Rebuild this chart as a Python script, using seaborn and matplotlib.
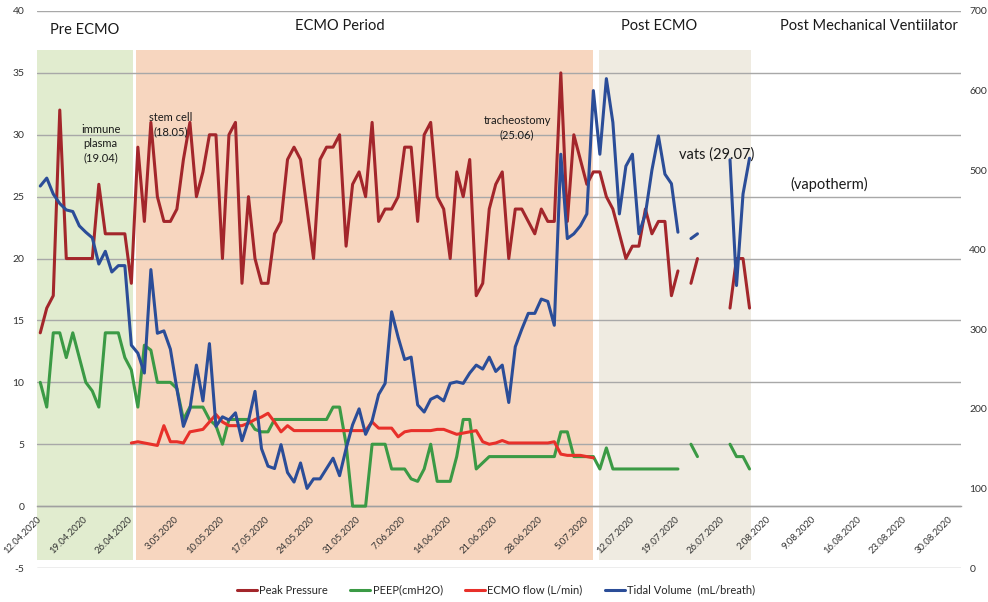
import numpy as np
import pandas as pd
import matplotlib
matplotlib.use("Agg")
import matplotlib.pyplot as plt
import matplotlib.dates as mdates
from matplotlib.lines import Line2D
import seaborn as sns

# ---------------- data ----------------
start_date = "2020-04-12"
nan = np.nan

peak_pressure = [14, 16, 17, 32, 20, 20, 20, 20, 20, 26,
                 22, 22, 22, 22, 18, 29, 23, 31, 25, 23,
                 23, 24, 28, 31, 25, 27, 30, 30, 20, 30,
                 31, 18, 25, 20, 18, 18, 22, 23, 28, 29,
                 28, 24, 20, 28, 29, 29, 30, 21, 26, 27,
                 25, 31, 23, 24, 24, 25, 29, 29, 23, 30,
                 31, 25, 24, 20, 27, 25, 28, 17, 18, 24,
                 26, 27, 20, 24, 24, 23, 22, 24, 23, 23,
                 35, 23, 30, 28, 26, 27, 27, 25, 24, 22,
                 20, 21, 21, 24, 22, 23, 23, 17, 19, nan,
                 18, 20, nan, nan, nan, nan, 16, 20, 20, 16]

peep = [10, 8, 14, 14, 12, 14, 12, 10, 9.3, 8,
        14, 14, 14, 12, 11, 8, 13, 12.6, 10, 10,
        10, 9.5, 7, 8, 8, 8, 7, 6.5, 5, 7,
        7, 7, 7, 6.2, 6, 6, 7, 7, 7, 7,
        7, 7, 7, 7, 7, 8, 8, 5, 0, 0,
        0, 5, 5, 5, 3, 3, 3, 2.2, 2, 3,
        5, 2, 2, 2, 4, 7, 7, 3, 3.5, 4,
        4, 4, 4, 4, 4, 4, 4, 4, 4, 4,
        6, 6, 4, 4, 4, 4, 3, 4.7, 3, 3,
        3, 3, 3, 3, 3, 3, 3, 3, 3, nan,
        5, 4, nan, nan, nan, nan, 5, 4, 4, 3]

ecmo_start_day = 14
ecmo_flow = [5.1, 5.2, 5.1, 5.0, 4.9, 6.5, 5.2, 5.2, 5.1, 6.0,
             6.1, 6.2, 6.8, 7.4, 6.8, 6.5, 6.5, 6.5, 6.7, 7.0,
             7.2, 7.5, 6.8, 6.0, 6.5, 6.1, 6.1, 6.1, 6.1, 6.1,
             6.1, 6.1, 6.1, 6.1, 6.1, 6.1, 6.1, 6.8, 6.3, 6.3,
             6.3, 5.6, 6.0, 6.1, 6.1, 6.1, 6.1, 6.2, 6.2, 6.0,
             5.8, 5.9, 6.0, 6.1, 5.2, 5.0, 5.1, 5.3, 5.1, 5.1,
             5.1, 5.1, 5.1, 5.1, 5.1, 5.2, 4.2, 4.1, 4.1, 4.1,
             4.0, 3.9]

tidal_volume = [480, 490, 470, 458, 450, 448, 430, 422, 415, 382,
                398, 372, 380, 380, 280, 270, 245, 375, 295, 298,
                275, 225, 178, 200, 255, 210, 282, 178, 190, 186,
                195, 160, 185, 222, 150, 128, 125, 155, 120, 108,
                132, 100, 112, 112, 125, 138, 116, 150, 180, 200,
                168, 185, 218, 232, 322, 290, 262, 265, 205, 196,
                212, 216, 210, 232, 234, 232, 245, 255, 250, 265,
                247, 255, 208, 278, 300, 320, 320, 338, 335, 305,
                520, 414, 420, 430, 445, 600, 520, 615, 560, 445,
                505, 520, 420, 445, 500, 543, 495, 483, 422, nan,
                414, 420, nan, nan, nan, nan, 513, 355, 470, 515]

tick_labels = ["12.04.2020", "19.04.2020", "26.04.2020", "3.05.2020", "10.05.2020",
               "17.05.2020", "24.05.2020", "31.05.2020", "7.06.2020", "14.06.2020",
               "21.06.2020", "28.06.2020", "5.07.2020", "12.07.2020", "19.07.2020",
               "26.07.2020", "2.08.2020", "9.08.2020", "16.08.2020", "23.08.2020",
               "30.08.2020"]

left_ticks = [-5, 0, 5, 10, 15, 20, 25, 30, 35, 40]
right_ticks = [0, 100, 200, 300, 400, 500, 600, 700]

periods = ["Pre ECMO", "ECMO Period", "Post ECMO", "Post Mechanical Ventiilator"]
series_names = ["Peak Pressure", "PEEP(cmH2O)", "ECMO flow (L/min)", "Tidal Volume  (mL/breath)"]

# ---------------- style ----------------
sns.set_style("white")
plt.rcParams["font.family"] = ["Lato", "DejaVu Sans"]

c_peak = "#A3262B"
c_peep = "#3B9A45"
c_ecmo = "#E8302A"
c_tidal = "#2B4D98"

base = pd.Timestamp(start_date)


def day(d):
    return base + pd.Timedelta(days=d)


def series_frame(values, first_day=0):
    v = pd.Series(values, dtype=float)
    seg = v.isna().cumsum()
    dates = [base + pd.Timedelta(days=first_day + i, hours=12) for i in range(len(v))]
    df = pd.DataFrame({"date": dates, "value": v, "seg": seg})
    return df.dropna()


fig = plt.figure(figsize=(9.88, 6.02), dpi=100)
ax = fig.add_axes([37 / 988, 1 - 568 / 602, (961 - 37) / 988, 557 / 602])
ax2 = ax.twinx()

# background period shapes
span_lo, span_hi = (568 - 560) / 557, (568 - 50) / 557
ax.axvspan(day(0), day(14.74), ymin=span_lo, ymax=span_hi, color="#E1ECCF", lw=0, zorder=0.2)
ax.axvspan(day(15.2), day(85.5), ymin=span_lo, ymax=span_hi, color="#F7D6BF", lw=0, zorder=0.2)
ax.axvspan(day(86.3), day(109.8), ymin=span_lo, ymax=span_hi, color="#EFEBE1", lw=0, zorder=0.2)

lw = 2.2
kw = dict(estimator=None, units="seg", legend=False, linewidth=lw,
          solid_capstyle="round", solid_joinstyle="round")
sns.lineplot(data=series_frame(peak_pressure), x="date", y="value", color=c_peak, ax=ax, zorder=3, **kw)
sns.lineplot(data=series_frame(peep), x="date", y="value", color=c_peep, ax=ax, zorder=3, **kw)
sns.lineplot(data=series_frame(ecmo_flow, ecmo_start_day), x="date", y="value", color=c_ecmo, ax=ax, zorder=3, **kw)
sns.lineplot(data=series_frame(tidal_volume), x="date", y="value", color=c_tidal, ax=ax2, zorder=3, **kw)

# spines first (set_position resets ticks)
for s in ["top", "right", "left"]:
    ax.spines[s].set_visible(False)
for s in ax2.spines.values():
    s.set_visible(False)
ax.spines["bottom"].set_position(("data", 0))
ax.spines["bottom"].set_color("#A0A0A0")
ax.spines["bottom"].set_linewidth(1.0)

# axes
ax.set_xlim(day(0), day(142))
ax.set_ylim(-5, 40)
ax2.set_ylim(0, 700)
ax.set_yticks(left_ticks)
ax.set_yticklabels([str(t) for t in left_ticks], fontsize=7.5, color="#333333")
ax2.set_yticks(right_ticks)
ax2.set_yticklabels([str(t) for t in right_ticks], fontsize=7.5, color="#333333")
ax.set_xticks([day(7 * i) for i in range(len(tick_labels))])
ax.set_xticklabels(tick_labels, rotation=45, ha="right", va="top",
                   rotation_mode="anchor", fontsize=6.8, color="#333333")
ax.set_xlabel("")
ax.set_ylabel("")
ax2.set_ylabel("")

ax.yaxis.grid(True, color="#A8A8A8", lw=1.0, zorder=0.5)
ax.xaxis.grid(False)
ax2.grid(False)
ax.tick_params(axis="x", direction="out", length=4, width=1, color="#A0A0A0", pad=2)
ax.tick_params(axis="y", length=0, pad=9)
ax2.tick_params(axis="y", length=0, pad=6)

# period headers
hdr = dict(ha="center", va="center", fontsize=10.5, color="#1a1a1a")
ax.text(day(7.4), 38.5, periods[0], **hdr)
ax.text(day(46.5), 38.8, periods[1], **hdr)
ax.text(day(95.6), 38.8, periods[2], **hdr)
ax.text(day(127.9), 38.8, periods[3], **hdr)

# annotations
ann = dict(ha="center", va="center", fontsize=8, color="#1a1a1a", linespacing=1.35)
ax.text(day(9.8), 29.3, "immune\nplasma\n(19.04)", **ann)
ax.text(day(20.6), 30.8, "stem cell\n(18.05)", **ann)
ax.text(day(73.8), 30.6, "tracheostomy\n(25.06)", **ann)
ax.text(day(104.4), 28.4, "vats (29.07)", ha="center", va="center", fontsize=10.5, color="#1a1a1a")
ax.text(day(121.7), 26.0, "(vapotherm)", ha="center", va="center", fontsize=10.5, color="#1a1a1a")

# legend
handles = [Line2D([0], [0], color=c, lw=lw) for c in [c_peak, c_peep, c_ecmo, c_tidal]]
fig.legend(handles, series_names, loc="center", bbox_to_anchor=(496 / 988, 1 - 590 / 602),
           ncol=4, frameon=False, fontsize=8, handlelength=1.8, handletextpad=0.2,
           columnspacing=2.0)

fig.savefig("out.png", dpi=100)
